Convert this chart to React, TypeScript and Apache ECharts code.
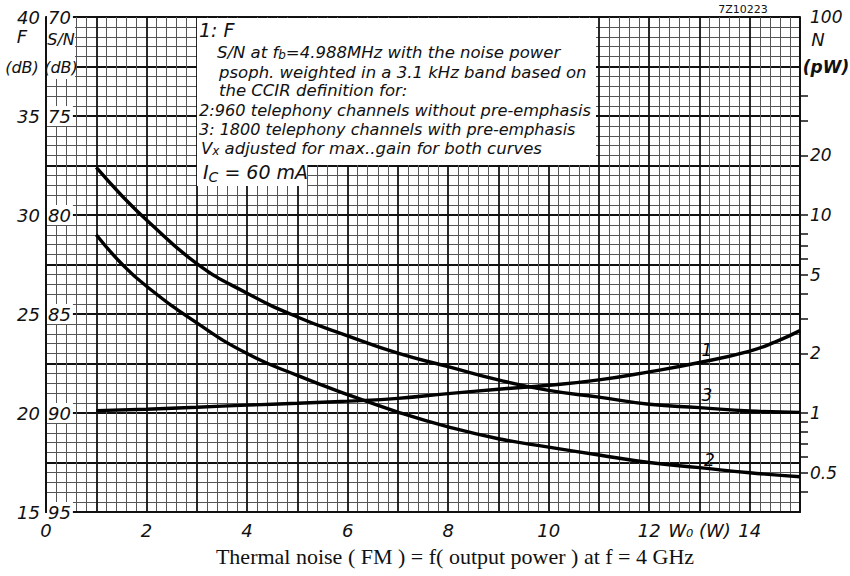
import React, { useEffect, useRef } from 'react';
import * as echarts from 'echarts';

// Output power W0 (W)
const curve1X = [1, 2, 3, 4, 5, 6, 7, 8, 9, 10, 11, 12, 13, 14, 14.5, 15];
// Curve 1: F (dB)
const curve1F = [20.12, 20.19, 20.29, 20.4, 20.49, 20.6, 20.74, 20.98, 21.2, 21.4, 21.67, 22.08, 22.55, 23.13, 23.58, 24.16];
const curve23X = [1, 1.5, 2, 3, 4, 5, 6, 7, 8, 9, 10, 11, 12, 13, 14, 15];
// Curve 2: S/N (dB), 960 channels without pre-emphasis
const curve2SN = [81.0, 82.45, 83.6, 85.45, 87.0, 88.1, 89.07, 89.95, 90.7, 91.3, 91.72, 92.12, 92.5, 92.76, 93.02, 93.22];
// Curve 3: S/N (dB), 1800 channels with pre-emphasis
const curve3SN = [77.6, 79.0, 80.25, 82.45, 83.95, 85.15, 86.1, 86.98, 87.66, 88.33, 88.86, 89.2, 89.56, 89.73, 89.9, 89.97];

// Curve number labels (x, F)
const curveLabelX = [13.15, 13.15, 13.2];
const curveLabelF = [23.2, 20.9, 17.63];
const curveLabelText = ['1', '3', '2'];

// Right axis N (pW) ticks and labels
const nTicks = [40, 30, 20, 10, 8, 7, 6, 5, 4, 3, 2, 1, 0.9, 0.8, 0.7, 0.6, 0.5, 0.4];
const nLabels = [100, 20, 10, 5, 2, 1, 0.5];

const FONT = '"DejaVu Sans", sans-serif';

const nToF = (n: number) => 20 + 10 * Math.log10(n);

export default function App() {
  const ref = useRef<HTMLDivElement>(null);
  useEffect(() => {
    if (!ref.current) return;
    const chart = echarts.init(ref.current, undefined, { renderer: 'svg' });
    const italicLabel = { fontFamily: FONT, fontStyle: 'italic' as const, fontSize: 18, color: '#111' };
    const txt = (x: number, y: number, text: string, extra: any = {}) => ({
      type: 'text', x, y, z: 10,
      style: { text, fontFamily: FONT, fontStyle: 'italic', fontSize: 16.5, fill: '#111', textVerticalAlign: 'middle', ...extra },
    });
    const rich = {
      n: { fontFamily: FONT, fontStyle: 'italic', fontSize: 16.5, color: '#111' },
      b: { fontFamily: FONT, fontStyle: 'italic', fontSize: 19, color: '#111' },
      s: { fontFamily: FONT, fontStyle: 'italic', fontSize: 12, color: '#111', padding: [6, 0, 0, 0] },
      bs: { fontFamily: FONT, fontStyle: 'italic', fontSize: 14, color: '#111', padding: [9, 0, 0, 0] },
    };
    const option: any = {
      animation: false,
      backgroundColor: '#fff',
      grid: { left: 46, right: 50, top: 17, bottom: 64, containLabel: false },
      xAxis: {
        type: 'value', min: 0, max: 15, interval: 1,
        axisLine: { show: true, lineStyle: { color: '#111', width: 2 } },
        axisTick: { show: false },
        minorTick: { show: false, splitNumber: 5 },
        axisLabel: {
          ...italicLabel, margin: 9,
          formatter: (v: number) => (v === 13 ? 'W₀ (W)' : v % 2 === 0 ? String(v) : ''),
        },
        splitLine: { show: true, lineStyle: { color: '#111', width: 1.8 } },
        minorSplitLine: { show: true, lineStyle: { color: '#555', width: 1 } },
      },
      yAxis: [
        {
          type: 'value', min: 15, max: 40, interval: 2.5, position: 'left',
          axisLine: { show: true, lineStyle: { color: '#111', width: 2 } },
          axisTick: { show: false },
          minorTick: { show: false, splitNumber: 5 },
          axisLabel: { ...italicLabel, margin: 6, formatter: (v: number) => (v % 5 === 0 ? String(v) : '') },
          splitLine: { show: true, lineStyle: { color: '#111', width: 1.8 } },
          minorSplitLine: { show: true, lineStyle: { color: '#555', width: 1 } },
        },
        {
          type: 'value', min: 70, max: 95, interval: 5, inverse: true, position: 'left',
          axisLine: { show: false }, axisTick: { show: false }, splitLine: { show: false },
          axisLabel: { ...italicLabel, inside: true, margin: 1, backgroundColor: '#fff', padding: [1, 2, 1, 1] },
          z: 6,
        },
        {
          type: 'value', min: 15, max: 40, position: 'right',
          axisLine: { show: true, lineStyle: { color: '#111', width: 2 } },
          axisTick: { show: true, length: 8, customValues: nTicks.map(nToF), lineStyle: { color: '#111', width: 1.5 } },
          axisLabel: {
            ...italicLabel, fontSize: 17, margin: 10,
            customValues: nLabels.map(nToF),
            formatter: (v: number) => {
              const n = Math.pow(10, (v - 20) / 10);
              return n >= 1 ? String(Math.round(n)) : String(Math.round(n * 10) / 10);
            },
          },
          splitLine: { show: false },
        },
      ],
      series: [
        {
          type: 'line', name: '1', yAxisIndex: 0, smooth: true, showSymbol: false, z: 4,
          data: curve1X.map((x, i) => [x, curve1F[i]]),
          lineStyle: { color: '#000', width: 3.4 },
        },
        {
          type: 'line', name: '2', yAxisIndex: 1, smooth: true, showSymbol: false, z: 4,
          data: curve23X.map((x, i) => [x, curve2SN[i]]),
          lineStyle: { color: '#000', width: 3.4 },
        },
        {
          type: 'line', name: '3', yAxisIndex: 1, smooth: true, showSymbol: false, z: 4,
          data: curve23X.map((x, i) => [x, curve3SN[i]]),
          lineStyle: { color: '#000', width: 3.4 },
        },
        {
          type: 'scatter', yAxisIndex: 0, symbolSize: 0.01, z: 5,
          itemStyle: { color: '#000', opacity: 1 },
          data: curveLabelX.map((x, i) => ({ value: [x, curveLabelF[i]], name: curveLabelText[i] })),
          label: {
            show: true, position: 'inside', formatter: (p: any) => p.name, opacity: 1,
            fontFamily: FONT, fontStyle: 'italic', fontSize: 17, color: '#000', textBorderWidth: 0,
          },
        },
      ],
      graphic: [
        { type: 'rect', z: 3, shape: { x: 197, y: 18, width: 399, height: 147 }, style: { fill: '#fff' } },
        { type: 'rect', z: 3, shape: { x: 197, y: 164, width: 110, height: 22 }, style: { fill: '#fff' } },
        { type: 'rect', z: 3, shape: { x: 47, y: 18, width: 28, height: 61 }, style: { fill: '#fff' } },
        txt(22, 36, 'F', { fontSize: 18, textAlign: 'center' }),
        txt(22, 67, '(dB)', { fontSize: 16, textAlign: 'center' }),
        txt(61, 39, 'S/N', { fontSize: 16, textAlign: 'center' }),
        txt(61, 67, '(dB)', { fontSize: 16, textAlign: 'center' }),
        txt(818, 39, 'N', { fontSize: 18, textAlign: 'center' }),
        txt(826, 67, '(pW)', { fontSize: 17, textAlign: 'center', fontWeight: 'bold' }),
        txt(743, 9, '7Z10223', { fontSize: 11, fontStyle: 'normal', textAlign: 'center' }),
        txt(199, 30, '{b|1: F}', { rich }),
        txt(217, 52, '{n|S/N at f}{s|b}{n|=4.988MHz with the noise power}', { rich }),
        txt(219, 72, 'psoph. weighted in a 3.1 kHz band based on'),
        txt(219, 90, 'the CCIR definition for:'),
        txt(199, 110, '2:960 telephony channels without pre-emphasis', { fontSize: 16.2 }),
        txt(199, 129, '3: 1800 telephony channels with pre-emphasis', { fontSize: 16 }),
        txt(201, 148, '{n|V}{s|x}{n| adjusted for max..gain for both curves}', { rich }),
        txt(203, 172, '{b|I}{bs|C}{b| = 60 mA}', { rich }),
        {
          type: 'text', x: 455, y: 556, z: 10,
          style: {
            text: 'Thermal noise ( FM ) = f( output power ) at f = 4 GHz',
            fontFamily: '"Liberation Serif", "DejaVu Serif", serif', fontSize: 22, fill: '#111',
            textAlign: 'center', textVerticalAlign: 'middle',
          },
        },
      ],
    };
    chart.setOption(option);
    return () => chart.dispose();
  }, []);
  return <div ref={ref} style={{ width: 850, height: 576, position: 'absolute', left: 0, top: 0 }} />;
}
